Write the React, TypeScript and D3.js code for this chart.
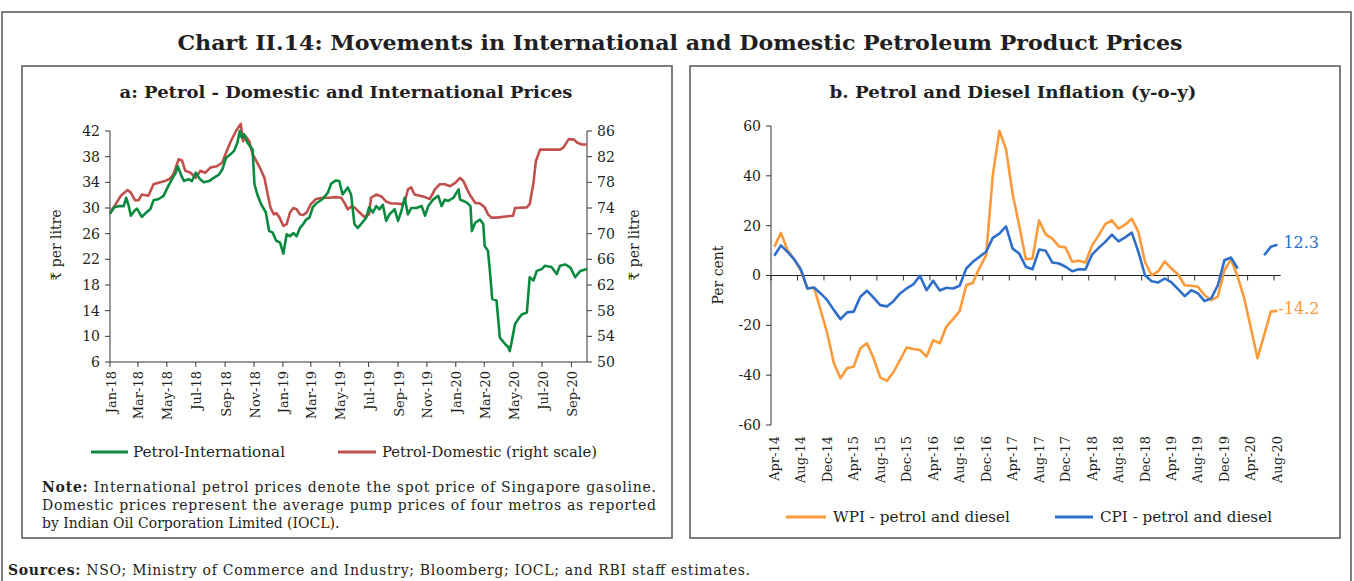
import React from "react";
import * as d3 from "d3";

const W = 1354;
const H = 581;
const SERIF = "'DejaVu Serif', 'Liberation Serif', serif";

// ---- panel a: petrol prices (₹ per litre) ----
const intlPetrol: [string, number][] = [
  ["2018-01-01", 29.1], ["2018-01-10", 30.1], ["2018-01-21", 30.3], ["2018-01-30", 30.3],
  ["2018-02-04", 31.6], ["2018-02-09", 30.5], ["2018-02-14", 28.8], ["2018-02-22", 29.6],
  ["2018-02-27", 29.9], ["2018-03-09", 28.6], ["2018-03-20", 29.4], ["2018-03-27", 29.8],
  ["2018-04-03", 31.2], ["2018-04-14", 31.4], ["2018-04-24", 31.9], ["2018-05-04", 33.4],
  ["2018-05-12", 34.5], ["2018-05-20", 35.5], ["2018-05-24", 36.5], ["2018-06-01", 35.0],
  ["2018-06-06", 34.2], ["2018-06-16", 34.5], ["2018-06-23", 34.2], ["2018-07-01", 35.5],
  ["2018-07-10", 34.5], ["2018-07-18", 34.0], ["2018-07-29", 34.2], ["2018-08-08", 34.7],
  ["2018-08-19", 35.2], ["2018-08-26", 36.0], ["2018-09-03", 37.8], ["2018-09-13", 38.4],
  ["2018-09-20", 38.9], ["2018-09-27", 40.2], ["2018-10-02", 42.0], ["2018-10-06", 41.0],
  ["2018-10-11", 41.5], ["2018-10-18", 40.2], ["2018-10-29", 39.1], ["2018-11-02", 33.7],
  ["2018-11-08", 32.1], ["2018-11-16", 30.6], ["2018-11-26", 29.3], ["2018-12-03", 26.4],
  ["2018-12-10", 26.2], ["2018-12-18", 24.9], ["2018-12-26", 24.6], ["2019-01-02", 22.9],
  ["2019-01-09", 25.9], ["2019-01-16", 25.6], ["2019-01-23", 26.1], ["2019-01-30", 25.6],
  ["2019-02-06", 26.9], ["2019-02-12", 27.4], ["2019-02-19", 28.2], ["2019-02-26", 28.5],
  ["2019-03-05", 30.1], ["2019-03-12", 30.7], ["2019-03-26", 31.4], ["2019-04-06", 32.4],
  ["2019-04-13", 33.8], ["2019-04-23", 34.3], ["2019-04-30", 34.2], ["2019-05-07", 32.1],
  ["2019-05-18", 33.2], ["2019-05-25", 32.1], ["2019-06-01", 27.5], ["2019-06-08", 26.9],
  ["2019-06-15", 27.5], ["2019-06-26", 28.5], ["2019-07-02", 30.1], ["2019-07-10", 29.3],
  ["2019-07-17", 30.3], ["2019-07-24", 29.8], ["2019-07-31", 30.5], ["2019-08-07", 28.0],
  ["2019-08-14", 29.0], ["2019-08-25", 29.8], ["2019-09-01", 28.0], ["2019-09-08", 29.5],
  ["2019-09-15", 31.6], ["2019-09-22", 29.0], ["2019-09-29", 30.0], ["2019-10-10", 30.0],
  ["2019-10-21", 30.3], ["2019-10-28", 28.8], ["2019-11-04", 30.3], ["2019-11-14", 31.3],
  ["2019-11-25", 31.9], ["2019-12-02", 30.3], ["2019-12-09", 31.3], ["2019-12-16", 31.1],
  ["2019-12-27", 31.6], ["2020-01-07", 32.9], ["2020-01-10", 31.3], ["2020-01-17", 31.1],
  ["2020-01-25", 30.8], ["2020-02-01", 30.3], ["2020-02-04", 26.4], ["2020-02-11", 27.7],
  ["2020-02-21", 28.2], ["2020-02-28", 27.5], ["2020-03-02", 24.1], ["2020-03-09", 23.3],
  ["2020-03-13", 20.2], ["2020-03-18", 15.8], ["2020-03-27", 15.6], ["2020-04-03", 9.8],
  ["2020-04-14", 8.8], ["2020-04-21", 8.3], ["2020-04-24", 7.7], ["2020-04-27", 8.8],
  ["2020-05-05", 11.9], ["2020-05-12", 12.7], ["2020-05-19", 13.4], ["2020-05-30", 13.7],
  ["2020-06-05", 19.2], ["2020-06-13", 18.7], ["2020-06-20", 20.2], ["2020-07-01", 20.5],
  ["2020-07-07", 21.0], ["2020-07-21", 20.8], ["2020-08-01", 19.7], ["2020-08-08", 21.0],
  ["2020-08-19", 21.2], ["2020-08-30", 20.7], ["2020-09-09", 19.2], ["2020-09-20", 20.2],
  ["2020-10-04", 20.5],
];

const domPetrol: [string, number][] = [
  ["2018-01-01", 73.3], ["2018-01-13", 74.6], ["2018-01-24", 75.9], ["2018-02-07", 76.8],
  ["2018-02-14", 76.4], ["2018-02-23", 75.2], ["2018-03-02", 75.2], ["2018-03-09", 76.1],
  ["2018-03-23", 75.9], ["2018-04-03", 77.7], ["2018-04-17", 78.0], ["2018-04-27", 78.2],
  ["2018-05-08", 78.6], ["2018-05-15", 79.3], ["2018-05-26", 81.6], ["2018-06-02", 81.4],
  ["2018-06-09", 79.8], ["2018-06-20", 79.5], ["2018-07-01", 78.7], ["2018-07-11", 79.8],
  ["2018-07-21", 79.5], ["2018-08-01", 80.3], ["2018-08-15", 80.5], ["2018-08-26", 81.1],
  ["2018-09-03", 82.6], ["2018-09-13", 84.4], ["2018-09-24", 86.0], ["2018-10-04", 87.1],
  ["2018-10-09", 84.4], ["2018-10-14", 85.2], ["2018-10-22", 84.4], ["2018-10-29", 82.4],
  ["2018-11-12", 80.5], ["2018-11-23", 78.7], ["2018-11-30", 76.1], ["2018-12-06", 74.0],
  ["2018-12-13", 73.0], ["2018-12-18", 73.2], ["2018-12-25", 72.5], ["2019-01-02", 71.2],
  ["2019-01-09", 71.5], ["2019-01-16", 73.3], ["2019-01-23", 74.0], ["2019-01-30", 73.8],
  ["2019-02-06", 73.0], ["2019-02-13", 72.9], ["2019-02-20", 73.3], ["2019-03-01", 74.6],
  ["2019-03-12", 75.4], ["2019-03-26", 75.6], ["2019-04-09", 75.6], ["2019-04-23", 75.7],
  ["2019-05-04", 75.6], ["2019-05-11", 74.8], ["2019-05-18", 73.8], ["2019-05-25", 74.2],
  ["2019-06-01", 74.1], ["2019-06-12", 73.3], ["2019-06-22", 72.6], ["2019-07-02", 73.0],
  ["2019-07-06", 75.6], ["2019-07-17", 76.1], ["2019-07-28", 75.8], ["2019-08-07", 75.0],
  ["2019-08-18", 74.7], ["2019-08-29", 74.7], ["2019-09-08", 74.6], ["2019-09-15", 74.9],
  ["2019-09-22", 76.9], ["2019-09-29", 77.2], ["2019-10-06", 76.1], ["2019-10-17", 75.9],
  ["2019-10-28", 75.7], ["2019-11-07", 75.4], ["2019-11-18", 76.9], ["2019-11-28", 77.7],
  ["2019-12-09", 77.7], ["2019-12-20", 77.4], ["2019-12-31", 77.9], ["2020-01-10", 78.7],
  ["2020-01-17", 78.2], ["2020-01-25", 76.9], ["2020-02-01", 75.9], ["2020-02-11", 74.8],
  ["2020-02-21", 74.7], ["2020-03-02", 74.1], ["2020-03-09", 73.0], ["2020-03-16", 72.5],
  ["2020-03-27", 72.5], ["2020-05-01", 72.8], ["2020-05-05", 74.0], ["2020-05-30", 74.1],
  ["2020-06-05", 74.6], ["2020-06-13", 77.9], ["2020-06-18", 81.3], ["2020-06-27", 83.1],
  ["2020-08-08", 83.1], ["2020-08-15", 83.4], ["2020-08-26", 84.7], ["2020-09-06", 84.7],
  ["2020-09-13", 84.2], ["2020-09-23", 83.9], ["2020-10-04", 83.9],
];

const leftTicks = [6, 10, 14, 18, 22, 26, 30, 34, 38, 42];
const rightTicks = [50, 54, 58, 62, 66, 70, 74, 78, 82, 86];

// ---- panel b: y-o-y inflation, Apr-14 to Aug-20 (per cent) ----
const wpiPetrolDiesel: number[] = [
  11.5, 17.1, 10.1, 6.5, 2.1, -5.2, -4.9, -13.9, -23.2, -35.2, -41.2, -37.2, -36.5,
  -29.2, -27.2, -33.2, -40.9, -42.3, -38.8, -33.9, -28.9, -29.5, -29.9, -32.5, -26.0,
  -27.2, -20.5, -17.5, -14.3, -3.9, -2.9, 3.1, 8.1, 40.1, 58.1, 50.8, 32.8, 20.1, 6.5,
  6.8, 22.1, 16.5, 14.8, 11.7, 11.2, 5.5, 5.9, 5.2, 12.1, 16.1, 20.6, 22.1, 18.8, 20.4,
  22.8, 17.5, 5.5, 0.1, 1.7, 5.7, 2.8, 0.4, -3.9, -4.1, -4.5, -7.9, -9.9, -8.5, 2.1,
  6.5, -0.5, -9.2, -21.2, -33.2, -23.9, -14.5, -14.2,
];
const cpiPetrolDiesel: (number | null)[] = [
  7.9, 12.1, 9.5, 6.5, 2.5, -5.2, -4.8, -7.2, -9.9, -13.9, -17.5, -14.8, -14.5, -8.5,
  -6.1, -8.9, -11.9, -12.4, -10.3, -7.2, -5.2, -3.6, -0.1, -5.9, -2.1, -6.0, -4.9, -5.2,
  -4.1, 2.8, 5.5, 7.5, 9.5, 15.1, 16.8, 19.7, 10.8, 8.8, 3.5, 2.5, 10.4, 9.9, 5.2, 4.8,
  3.5, 1.7, 2.5, 2.4, 8.4, 11.1, 13.5, 16.4, 13.7, 15.3, 17.2, 9.5, 0.1, -2.3, -2.8,
  -1.2, -2.8, -5.5, -8.3, -5.9, -7.2, -10.3, -9.2, -3.9, 6.1, 7.2, 2.8, null, null, null,
  8.1, 11.5, 12.3,
];
const inflTicks = [-60, -40, -20, 0, 20, 40, 60];
const months = d3.timeMonth.range(new Date(2014, 3, 1), new Date(2020, 8, 1));

const GREEN = "#0a8a3e";
const RED = "#c0504d";
const ORANGE = "#fb9a3a";
const BLUE = "#2f6fcb";
const TXT = "#231f20";

function PanelA() {
  const parse = d3.timeParse("%Y-%m-%d");
  const x = d3.scaleTime().domain([new Date(2018, 0, 1), new Date(2020, 9, 4)]).range([110, 587]);
  const yL = d3.scaleLinear().domain([6, 42]).range([362, 131]);
  const yR = d3.scaleLinear().domain([50, 86]).range([362, 131]);
  const lineL = d3.line<[string, number]>().x((d) => x(parse(d[0])!)).y((d) => yL(d[1]));
  const lineR = d3.line<[string, number]>().x((d) => x(parse(d[0])!)).y((d) => yR(d[1]));
  const xTicks = d3.timeMonth.every(2)!.range(new Date(2018, 0, 1), new Date(2020, 9, 2));
  const fmt = d3.timeFormat("%b-%y");
  return (
    <g fontFamily={SERIF} fill={TXT}>
      <rect x={22} y={66} width={650} height={472} fill="none" stroke="#555" strokeWidth={1.5} />
      <text x={346} y={98} textAnchor="middle" fontWeight="bold" fontSize={16.5} textLength={453} lengthAdjust="spacingAndGlyphs">
        a: Petrol - Domestic and International Prices
      </text>
      {/* axes */}
      <line x1={110} x2={110} y1={yL(42)} y2={yL(6)} stroke="#333" />
      <line x1={587} x2={587} y1={yR(86)} y2={yR(50)} stroke="#333" />
      <line x1={110} x2={587} y1={362} y2={362} stroke="#333" />
      {leftTicks.map((t) => (
        <g key={"l" + t}>
          <line x1={105} x2={110} y1={yL(t)} y2={yL(t)} stroke="#333" />
          <text x={100} y={yL(t)} dy="0.35em" textAnchor="end" fontSize={14}>{t}</text>
        </g>
      ))}
      {rightTicks.map((t) => (
        <g key={"r" + t}>
          <line x1={587} x2={592} y1={yR(t)} y2={yR(t)} stroke="#333" />
          <text x={597} y={yR(t)} dy="0.35em" fontSize={14}>{t}</text>
        </g>
      ))}
      {xTicks.map((d) => (
        <g key={d.toISOString()}>
          <line x1={x(d)} x2={x(d)} y1={362} y2={367} stroke="#333" />
          <text transform={`translate(${x(d) + 1},${371}) rotate(-90)`} textAnchor="end"
            dominantBaseline="central" fontSize={13}>{fmt(d)}</text>
        </g>
      ))}
      <text transform="translate(56,245) rotate(-90)" textAnchor="middle" dominantBaseline="central" fontSize={14}>
        ₹ per litre
      </text>
      <text transform="translate(634,245) rotate(-90)" textAnchor="middle" dominantBaseline="central" fontSize={14}>
        ₹ per litre
      </text>
      <path d={lineR(domPetrol)!} fill="none" stroke={RED} strokeWidth={2.6} strokeLinejoin="round" />
      <path d={lineL(intlPetrol)!} fill="none" stroke={GREEN} strokeWidth={2.6} strokeLinejoin="round" />
      {/* legend */}
      <line x1={91} x2={128} y1={452} y2={452} stroke={GREEN} strokeWidth={3} />
      <text x={133} y={452} dy="0.35em" fontSize={14} textLength={152} lengthAdjust="spacingAndGlyphs">Petrol-International</text>
      <line x1={338} x2={376} y1={452} y2={452} stroke={RED} strokeWidth={3} />
      <text x={382} y={452} dy="0.35em" fontSize={14} textLength={215} lengthAdjust="spacingAndGlyphs">Petrol-Domestic (right scale)</text>
      {/* note */}
      <text x={42} y={492} fontSize={14} textLength={614} lengthAdjust="spacing">
        <tspan fontWeight="bold">Note:</tspan> International petrol prices denote the spot price of Singapore gasoline.
      </text>
      <text x={42} y={510} fontSize={14} textLength={614} lengthAdjust="spacing">
        Domestic prices represent the average pump prices of four metros as reported
      </text>
      <text x={42} y={528} fontSize={14}>by Indian Oil Corporation Limited (IOCL).</text>
    </g>
  );
}

function PanelB() {
  const idx = d3.range(months.length);
  const x = d3.scaleBand<number>().domain(idx).range([771, 1280.7]).padding(0);
  const cx = (i: number) => x(i)! + x.bandwidth() / 2;
  const y = d3.scaleLinear().domain([-60, 60]).range([425, 126]);
  const line = d3
    .line<number | null>()
    .defined((d) => d != null)
    .x((_, i) => cx(i))
    .y((d) => y(d as number));
  const fmt = d3.timeFormat("%b-%y");
  const last = months.length - 1;
  return (
    <g fontFamily={SERIF} fill={TXT}>
      <rect x={690} y={66} width={650} height={472} fill="none" stroke="#555" strokeWidth={1.5} />
      <text x={1013} y={98} textAnchor="middle" fontWeight="bold" fontSize={16.5} textLength={367} lengthAdjust="spacingAndGlyphs">
        b. Petrol and Diesel Inflation (y-o-y)
      </text>
      <line x1={771} x2={771} y1={y(60)} y2={y(-60)} stroke="#333" />
      {inflTicks.map((t) => (
        <g key={t}>
          <line x1={766} x2={771} y1={y(t)} y2={y(t)} stroke="#333" />
          <text x={761} y={y(t)} dy="0.35em" textAnchor="end" fontSize={14}>{t}</text>
        </g>
      ))}
      <line x1={771} x2={1280.7} y1={y(0)} y2={y(0)} stroke="#222" strokeWidth={1.2} />
      {idx.filter((i) => i % 4 === 0).map((i) => (
        <g key={i}>
          <line x1={x(i)!} x2={x(i)!} y1={y(0)} y2={y(0) + 5} stroke="#333" />
          <text transform={`translate(${cx(i)},${436}) rotate(-90)`} textAnchor="end"
            dominantBaseline="central" fontSize={13}>{fmt(months[i])}</text>
        </g>
      ))}
      <text transform="translate(718,275) rotate(-90)" textAnchor="middle" dominantBaseline="central" fontSize={14}>
        Per cent
      </text>
      <path d={line(wpiPetrolDiesel)!} fill="none" stroke={ORANGE} strokeWidth={2.6} strokeLinejoin="round" />
      <path d={line(cpiPetrolDiesel)!} fill="none" stroke={BLUE} strokeWidth={2.6} strokeLinejoin="round" />
      <text x={cx(last) + 6} y={y(cpiPetrolDiesel[last] as number) - 2} dy="0.35em" fill={BLUE} fontSize={16}>
        {cpiPetrolDiesel[last]}
      </text>
      <text x={cx(last) + 1} y={y(wpiPetrolDiesel[last]) - 2} dy="0.35em" fill={ORANGE} fontSize={16}>
        {wpiPetrolDiesel[last]}
      </text>
      {/* legend */}
      <line x1={786} x2={826} y1={517} y2={517} stroke={ORANGE} strokeWidth={3} />
      <text x={833} y={517} dy="0.35em" fontSize={14} textLength={177} lengthAdjust="spacingAndGlyphs">WPI - petrol and diesel</text>
      <line x1={1055} x2={1093} y1={517} y2={517} stroke={BLUE} strokeWidth={3} />
      <text x={1100} y={517} dy="0.35em" fontSize={14} textLength={172} lengthAdjust="spacingAndGlyphs">CPI - petrol and diesel</text>
    </g>
  );
}

export default function App() {
  return (
    <svg width={W} height={H} style={{ position: "absolute", left: 0, top: 0, background: "#fff" }}>
      <rect x={2} y={12} width={1349} height={600} fill="none" stroke="#555" strokeWidth={1.5} />
      <text x={680} y={50} textAnchor="middle" fontFamily={SERIF} fontWeight="bold" fontSize={21}
        fill={TXT} textLength={1005} lengthAdjust="spacingAndGlyphs">
        Chart II.14: Movements in International and Domestic Petroleum Product Prices
      </text>
      <PanelA />
      <PanelB />
      <text x={8} y={575} fontFamily={SERIF} fontSize={14} fill={TXT} textLength={742} lengthAdjust="spacing">
        <tspan fontWeight="bold">Sources:</tspan> NSO; Ministry of Commerce and Industry; Bloomberg; IOCL; and RBI staff estimates.
      </text>
    </svg>
  );
}
